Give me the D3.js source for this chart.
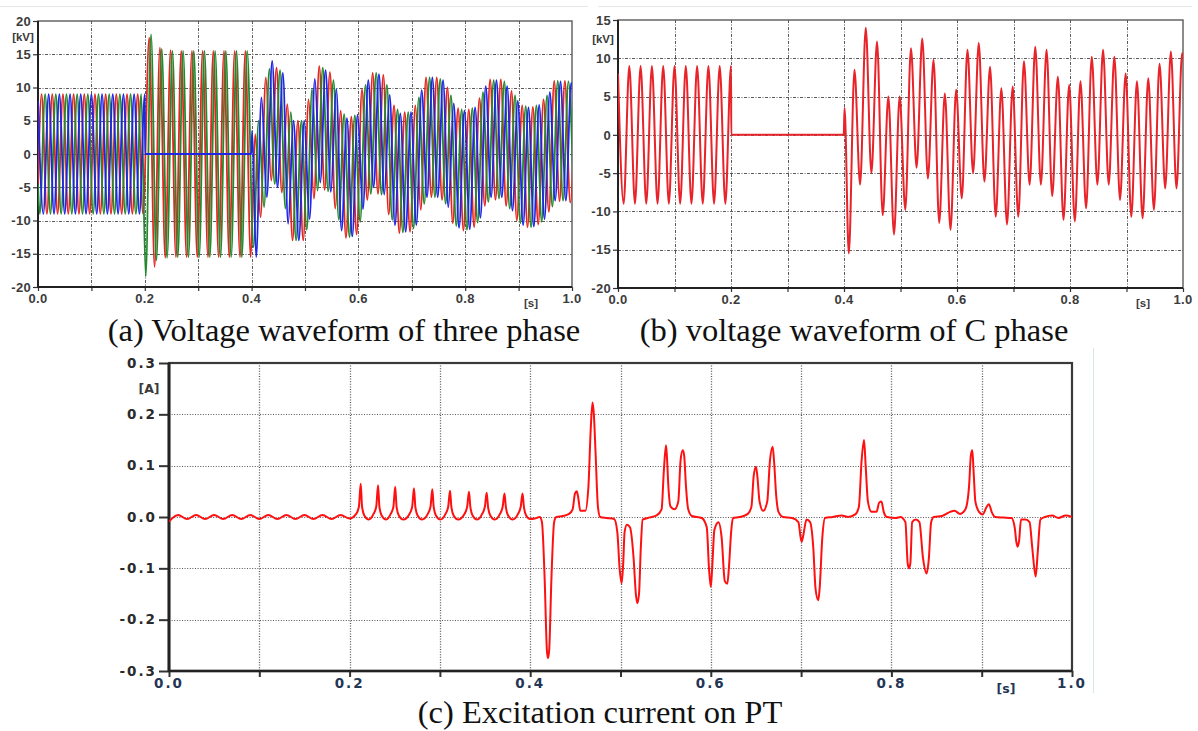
<!DOCTYPE html>
<html>
<head>
<meta charset="utf-8">
<script src="https://cdn.jsdelivr.net/npm/d3@7"></script>
<style>
  body { margin: 0; background: #fff; }
  svg { display: block; }
  .caption { font-family: "Liberation Serif", "Times New Roman", serif; font-size: 32.5px; fill: #111; }
</style>
</head>
<body>
<svg id="chart" width="1198" height="731"></svg>
<script>
// half period of the 50 Hz waveforms, spacing of the peak values below
const HALF = 0.01

// tick labels
const timeTicks = [0, 0.1, 0.2, 0.3, 0.4, 0.5, 0.6, 0.7, 0.8, 0.9, 1.0]
const timeLabels = [0, 0.2, 0.4, 0.6, 0.8, 1.0]
const kvTicksA = [20, 15, 10, 5, 0, -5, -10, -15, -20]
const kvTicksB = [15, 10, 5, 0, -5, -10, -15, -20]
const ampTicks = [0.3, 0.2, 0.1, 0, -0.1, -0.2, -0.3]

// phase voltages [kV], successive peaks (every half period) read from (a) and (b)
// pre fault 0 - 0.2 s
const phaseAPre = [9, -9, 9, -9, 9, -9, 9, -9, 9, -9, 9, -9, 9, -9, 9, -9, 9, -9, 9, -9]
const phaseBPre = [-9, 9, -9, 9, -9, 9, -9, 9, -9, 9, -9, 9, -9, 9, -9, 9, -9, 9, -9, 9]
const phaseCPre = [8, -9, 9, -9, 9, -9, 9, -9, 9, -9, 9, -9, 9, -9, 9, -9, 9, -9, 9, -9, 9]
// C grounded 0.2 - 0.4 s
const phaseAFault = [17.5, -17, 16, -15.6, 15.6, -15.5, 15.5, -15.5, 15.5, -15.5, 15.5, -15.5, 15.5, -15.5, 15.5, -15.5, 15.5, -15.5, 15.5, -15.5]
const phaseBFault = [-18.4, 18, -16, 15.8, -15.6, 15.5, -15.5, 15.5, -15.5, 15.5, -15.5, 15.5, -15.5, 15.5, -15.5, 15.5, -15.5, 15.5, -15.5, 15.5]
// after the fault is cleared 0.4 - 1.0 s
const phaseAPost = [3, -9.5, 11.5, -4, 13, -5.8, 7.5, -13, 5, -13,
  8.2, -6.7, 13.2, -5.4, 12.3, -8.2, 6.5, -12.6, 5.6, -12.1,
  9.7, -6.9, 12.2, -6.0, 11.9, -9.1, 7.3, -11.9, 6.3, -11.7,
  7.3, -8.4, 11.5, -6.5, 11.5, -6.9, 10.0, -10.4, 6.9, -11.5,
  6.7, -11.0, 8.4, -7.8, 11.2, -6.9, 11.2, -7.8, 9.5, -10.0,
  7.3, -11.0, 7.1, -10.6, 8.2, -8.7, 11.0, -7.1, 11.0, -7.3, 10.5]
const phaseBPost = [-14, 5, -8, 12.8, -4.5, 12.6, -8.2, 6.3, -13, 5,
  -11.4, 9.8, -5.5, 13.0, -5.6, 11.1, -9.9, 6.0, -12.5, 5.8,
  -10.2, 10.4, -6.0, 12.2, -6.1, 10.4, -9.9, 6.7, -11.8, 6.3,
  -11.2, 8.5, -7.5, 11.5, -6.5, 11.3, -7.5, 8.8, -10.8, 6.7,
  -11.4, 6.9, -10.3, 9.3, -7.2, 11.1, -6.7, 10.9, -8.2, 8.8,
  -10.4, 7.2, -11.0, 7.3, -10.2, 8.8, -7.9, 11.0, -7.0, 10.9, -7.3]
const phaseCPost = [-15.5, 8.5, -6.5, 14.0, -5.0, 12.2, -10.5, 5.0, -13.0, 5.0,
  -9.8, 11.3, -4.3, 12.6, -5.7, 9.8, -11.5, 5.4, -12.4, 5.9,
  -8.3, 11.1, -5.0, 12.0, -6.1, 8.9, -10.7, 6.1, -11.7, 6.3,
  -10.7, 9.6, -6.5, 11.5, -6.5, 11.1, -8.0, 7.6, -11.1, 6.5,
  -11.3, 7.0, -9.6, 10.2, -6.5, 11.1, -6.5, 10.2, -8.5, 8.0,
  -10.7, 7.0, -10.9, 7.4, -9.8, 9.3, -7.0, 10.9, -7.0, 10.7, -7.3]
// time of the first peak of each stretch [pre, fault, post]
const phaseAStart = [0.0067, 0.2083, 0.4067]
const phaseBStart = [0.0033, 0.2017, 0.4033]
const phaseCStart = [0, null, 0.4085]
// points that are not peaks: [t, kV]
const phaseAExtra = [[0, -4.5]]
const phaseBExtra = [[0, -4.5]]
const phaseCExtra = [[0.2005, 0], [0.3995, 0], [0.401, 3.5]]

// excitation current on PT [s, A]
const excitation = [
  [0, -0.009], [0.01, 0.004], [0.02, -0.004], [0.03, 0.004], [0.04, -0.004], [0.05, 0.004], [0.06, -0.004],
  [0.07, 0.004], [0.08, -0.004], [0.09, 0.004], [0.1, -0.004], [0.11, 0.004], [0.12, -0.004], [0.13, 0.004],
  [0.14, -0.004], [0.15, 0.004], [0.16, -0.004], [0.17, 0.004], [0.18, -0.004], [0.19, 0.004], [0.2, -0.003],
  [0.2073, 0.006], [0.2103, 0.02], [0.2123, 0.065], [0.2138, 0.02], [0.2163, 0.003], [0.2213, -0.005],
  [0.2265, 0.006], [0.2295, 0.02], [0.2315, 0.062], [0.233, 0.02], [0.2355, 0.003], [0.2405, -0.005],
  [0.2455, 0.006], [0.2485, 0.02], [0.2505, 0.059], [0.252, 0.02], [0.2545, 0.003], [0.2595, -0.005],
  [0.2663, 0.006], [0.2693, 0.02], [0.2713, 0.056], [0.2728, 0.02], [0.2753, 0.003], [0.2803, -0.005],
  [0.2866, 0.006], [0.2896, 0.02], [0.2916, 0.054], [0.2931, 0.02], [0.2956, 0.003], [0.3006, -0.005],
  [0.3062, 0.006], [0.3092, 0.02], [0.3112, 0.051], [0.3127, 0.02], [0.3152, 0.003], [0.3202, -0.005],
  [0.3272, 0.006], [0.3302, 0.02], [0.3322, 0.049], [0.3337, 0.02], [0.3362, 0.003], [0.3412, -0.005],
  [0.3468, 0.006], [0.3498, 0.02], [0.3518, 0.047], [0.3533, 0.02], [0.3558, 0.003], [0.3608, -0.005],
  [0.3665, 0.006], [0.3695, 0.02], [0.3715, 0.046], [0.373, 0.02], [0.3755, 0.003], [0.3805, -0.005],
  [0.3865, 0.006], [0.3895, 0.02], [0.3915, 0.046], [0.393, 0.02], [0.3955, 0.003], [0.400, -0.004],
  [0.405, -0.003], [0.4105, 0.0], [0.413, -0.01], [0.416, -0.12], [0.4185, -0.26], [0.4197, -0.275],
  [0.421, -0.26], [0.4235, -0.12], [0.4265, -0.01], [0.429, 0.0], [0.436, 0.002], [0.443, 0.006],
  [0.447, 0.015], [0.4495, 0.045], [0.4515, 0.05], [0.453, 0.04], [0.4555, 0.012], [0.461, 0.012],
  [0.4645, 0.06], [0.467, 0.17], [0.469, 0.223], [0.4705, 0.2], [0.4725, 0.12], [0.475, 0.02], [0.4775, 0.0],
  [0.485, -0.002], [0.493, -0.004], [0.4965, -0.03], [0.499, -0.1], [0.5013, -0.129], [0.503, -0.09],
  [0.5045, -0.03], [0.507, -0.015], [0.5105, -0.02], [0.5145, -0.08], [0.517, -0.15], [0.5186, -0.168],
  [0.5205, -0.15], [0.5225, -0.06], [0.5245, -0.005], [0.530, -0.002], [0.540, 0.003],
  [0.5455, 0.015], [0.548, 0.09], [0.5504, 0.14], [0.5515, 0.115], [0.553, 0.06], [0.5555, 0.02],
  [0.560, 0.015], [0.564, 0.03], [0.5665, 0.11], [0.5689, 0.13], [0.5705, 0.12], [0.5725, 0.06],
  [0.575, 0.015], [0.579, 0.002], [0.590, -0.002],
  [0.5955, -0.02], [0.598, -0.1], [0.600, -0.136], [0.6015, -0.1], [0.604, -0.025], [0.6085, -0.01],
  [0.612, -0.04], [0.6155, -0.125], [0.6183, -0.13], [0.620, -0.1], [0.6225, -0.03], [0.6245, -0.002],
  [0.632, 0.0], [0.641, 0.006],
  [0.645, 0.02], [0.6475, 0.08], [0.650, 0.098], [0.6515, 0.08], [0.654, 0.03], [0.658, 0.012],
  [0.6625, 0.03], [0.6655, 0.11], [0.6685, 0.137], [0.670, 0.11], [0.6725, 0.04], [0.675, 0.01],
  [0.680, 0.0], [0.690, -0.002],
  [0.697, -0.01], [0.6995, -0.04], [0.7006, -0.048], [0.7025, -0.035], [0.706, -0.005], [0.710, -0.01],
  [0.7135, -0.06], [0.716, -0.14], [0.719, -0.162], [0.7205, -0.14], [0.7235, -0.04], [0.7265, -0.002],
  [0.735, 0.0], [0.745, 0.003], [0.752, 0.0], [0.760, 0.005],
  [0.764, 0.02], [0.767, 0.11], [0.7697, 0.15], [0.7715, 0.1], [0.774, 0.03], [0.778, 0.01],
  [0.7835, 0.01], [0.7865, 0.028], [0.789, 0.03], [0.7915, 0.01], [0.795, 0.0], [0.805, -0.002], [0.810, 0.0],
  [0.8155, -0.01], [0.818, -0.09], [0.8195, -0.1], [0.821, -0.09], [0.823, -0.01], [0.827, -0.005],
  [0.831, -0.01], [0.835, -0.08], [0.839, -0.11], [0.8415, -0.08], [0.844, -0.01], [0.847, 0.0],
  [0.856, 0.002], [0.865, 0.01], [0.870, 0.012], [0.876, 0.006], [0.882, 0.015],
  [0.886, 0.06], [0.888, 0.12], [0.8896, 0.13], [0.891, 0.09], [0.893, 0.03], [0.897, 0.01],
  [0.901, 0.005], [0.9055, 0.02], [0.908, 0.025], [0.911, 0.01], [0.915, 0.0], [0.924, -0.001], [0.933, -0.002],
  [0.9365, -0.02], [0.9385, -0.05], [0.9398, -0.058], [0.9415, -0.045], [0.9435, -0.005], [0.9485, -0.005],
  [0.953, -0.01], [0.956, -0.06], [0.9598, -0.116], [0.962, -0.07], [0.965, -0.005], [0.970, 0.0],
  [0.978, 0.003], [0.985, -0.002], [0.993, 0.003], [1.0, 0.0]
]

const svg = d3.select('#chart')

// faint borders of the scanned figure
svg.append('line').attr('x1', 0).attr('x2', 588).attr('y1', 6.5).attr('y2', 6.5).attr('stroke', '#e4e9e6')
svg.append('line').attr('x1', 598).attr('x2', 1192).attr('y1', 6.5).attr('y2', 6.5).attr('stroke', '#e4e9e6')
svg.append('line').attr('x1', 1093.5).attr('x2', 1093.5).attr('y1', 348).attr('y2', 693).attr('stroke', '#d3eadb')

// plain hyphen minus, as in the original plots
const intFormat = d => String(d)
const ampFormat = d => d.toFixed(1)

function drawFrame({ id, left, right, top, bottom, yDomain, yTicks, yFormat, unit, unitX, unitY, sX, sY, big }) {
  const x = d3.scaleLinear().domain([0, 1]).range([left, right])
  const y = d3.scaleLinear().domain(yDomain).range([bottom, top])
  const g = svg.append('g')
  const gridDash = big ? '1,1.6' : '3,1.5,1,1.5'
  const gridColor = big ? '#555' : '#5a5a5a'

  g.selectAll('.vgrid')
    .data(timeTicks.slice(1, -1))
    .join('line')
    .attr('x1', d => Math.round(x(d)) + 0.5).attr('x2', d => Math.round(x(d)) + 0.5)
    .attr('y1', top).attr('y2', bottom)
    .attr('stroke', gridColor).attr('stroke-width', big ? 1.3 : 1)
    .attr('stroke-dasharray', gridDash)
  g.selectAll('.hgrid')
    .data(yTicks.filter(d => d !== yDomain[0] && d !== yDomain[1]))
    .join('line')
    .attr('x1', left).attr('x2', right)
    .attr('y1', d => Math.round(y(d)) + 0.5).attr('y2', d => Math.round(y(d)) + 0.5)
    .attr('stroke', gridColor).attr('stroke-width', 1)
    .attr('stroke-dasharray', gridDash)

  const fontFamily = big ? '"DejaVu Sans", Verdana, sans-serif' : 'Arial, "Liberation Sans", sans-serif'
  const fontSize = big ? 13.5 : 13

  const yAxis = g.append('g')
    .attr('transform', `translate(${left},0)`)
    .call(d3.axisLeft(y).tickValues(yTicks).tickSize(big ? 10 : 5).tickPadding(2).tickFormat(yFormat))
  yAxis.select('.domain').remove()
  yAxis.selectAll('.tick line').attr('stroke', '#333').attr('stroke-width', big ? 2 : 1.2)
  yAxis.selectAll('.tick text')
    .attr('font-family', fontFamily).attr('font-weight', 'bold')
    .attr('font-size', fontSize).attr('letter-spacing', big ? 2 : 0.3)
    .attr('fill', big ? '#2a2a2a' : '#3c3c3c')

  const xAxis = g.append('g')
    .attr('transform', `translate(0,${bottom})`)
    .call(d3.axisBottom(x).tickValues(timeTicks).tickSize(big ? 6 : 4).tickFormat(''))
  xAxis.select('.domain').remove()
  xAxis.selectAll('.tick line').attr('stroke', '#333').attr('stroke-width', big ? 2 : 1.2)

  g.selectAll('.xlabel')
    .data(timeLabels)
    .join('text')
    .attr('x', d => x(d)).attr('y', bottom + (big ? 17 : 16))
    .attr('text-anchor', 'middle')
    .attr('font-family', fontFamily).attr('font-weight', 'bold')
    .attr('font-size', fontSize).attr('letter-spacing', big ? 2 : 0.3)
    .attr('fill', big ? '#243656' : '#3c3c3c')
    .text(d => d.toFixed(1))

  // frame
  g.append('rect')
    .attr('x', left).attr('y', top).attr('width', right - left).attr('height', bottom - top)
    .attr('fill', 'none').attr('stroke', big ? '#3a3a3a' : '#5a5a5a').attr('stroke-width', big ? 2.2 : 1.4)
  g.append('line').attr('x1', left).attr('x2', left).attr('y1', top).attr('y2', bottom + 1)
    .attr('stroke', '#222').attr('stroke-width', big ? 3 : 2)
  g.append('line').attr('x1', left).attr('x2', right).attr('y1', bottom).attr('y2', bottom)
    .attr('stroke', '#222').attr('stroke-width', big ? 2.4 : 1.8)

  g.append('text')
    .attr('x', unitX).attr('y', unitY).attr('text-anchor', 'middle')
    .attr('font-family', fontFamily).attr('font-weight', 'bold')
    .attr('font-size', big ? 12.5 : 11.5).attr('fill', '#3a3a3a')
    .text(unit)
  g.append('text')
    .attr('x', sX).attr('y', sY).attr('text-anchor', 'middle')
    .attr('font-family', fontFamily).attr('font-weight', 'bold')
    .attr('font-size', big ? 12.5 : 11.5).attr('fill', big ? '#243656' : '#3c3c3c')
    .text('[s]')

  svg.append('clipPath').attr('id', id)
    .append('rect').attr('x', left).attr('y', top - 2).attr('width', right - left).attr('height', bottom - top + 4)

  return { x, y }
}

function phasePoints(starts, stretches, extra) {
  const pts = []
  stretches.forEach((vals, s) => {
    if (starts[s] === null) return
    vals.forEach((v, i) => pts.push([starts[s] + i * HALF, v]))
  })
  return pts.concat(extra).sort((a, b) => a[0] - b[0])
}

const seriesA = phasePoints(phaseAStart, [phaseAPre, phaseAFault, phaseAPost], phaseAExtra)
const seriesB = phasePoints(phaseBStart, [phaseBPre, phaseBFault, phaseBPost], phaseBExtra)
const seriesC = phasePoints(phaseCStart, [phaseCPre, [], phaseCPost], phaseCExtra)

function drawLine(scales, clipId, points, color, width) {
  const line = d3.line()
    .curve(d3.curveMonotoneX)
    .x(d => scales.x(d[0]))
    .y(d => scales.y(d[1]))
  svg.append('path')
    .datum(points)
    .attr('clip-path', `url(#${clipId})`)
    .attr('fill', 'none')
    .attr('stroke', color)
    .attr('stroke-width', width)
    .attr('stroke-linejoin', 'round')
    .attr('d', line)
}

// (a) three phase voltage
const panelA = drawFrame({
  id: 'clip-a', left: 38, right: 572, top: 21, bottom: 287,
  yDomain: [-20, 20], yTicks: kvTicksA, yFormat: intFormat,
  unit: '[kV]', unitX: 23, unitY: 41, sX: 531, sY: 307
})
drawLine(panelA, 'clip-a', seriesA, '#e3261f', 1.8)
drawLine(panelA, 'clip-a', seriesB, '#23892f', 1.8)
drawLine(panelA, 'clip-a', seriesC, '#1f25e6', 1.8)

// (b) C phase voltage
const panelB = drawFrame({
  id: 'clip-b', left: 618, right: 1183, top: 20, bottom: 288,
  yDomain: [-20, 15], yTicks: kvTicksB, yFormat: intFormat,
  unit: '[kV]', unitX: 603, unitY: 43, sX: 1143, sY: 307
})
drawLine(panelB, 'clip-b', seriesC, '#e8242a', 2)

// (c) excitation current
const panelC = drawFrame({
  id: 'clip-c', left: 169, right: 1072, top: 363, bottom: 671,
  yDomain: [-0.3, 0.3], yTicks: ampTicks, yFormat: ampFormat,
  unit: '[A]', unitX: 149, unitY: 393, sX: 1006, sY: 693, big: true
})
drawLine(panelC, 'clip-c', excitation, '#ff1010', 2)

// captions
svg.append('text').attr('class', 'caption').attr('x', 344).attr('y', 341).attr('text-anchor', 'middle')
  .text('(a) Voltage waveform of three phase')
svg.append('text').attr('class', 'caption').attr('x', 854).attr('y', 341).attr('text-anchor', 'middle')
  .text('(b) voltage waveform of C phase')
svg.append('text').attr('class', 'caption').attr('x', 600).attr('y', 723).attr('text-anchor', 'middle')
  .text('(c) Excitation current on PT')
</script>
</body>
</html>
